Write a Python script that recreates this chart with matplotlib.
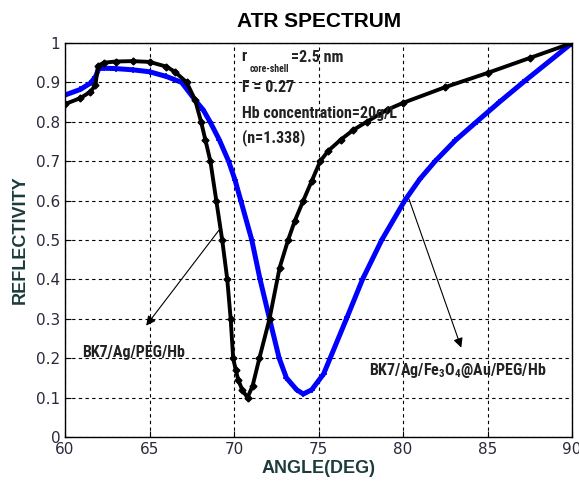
import numpy as np
import matplotlib
matplotlib.use('Agg')
import matplotlib.pyplot as plt

# BK7/Ag/PEG/Hb (black)
black_angle = [60, 60.9, 61.5, 61.8, 61.95, 62.3, 63, 64, 65, 66, 66.5, 67.2, 67.7, 68.05,
               68.3, 68.6, 68.95, 69.3, 69.6, 69.8, 69.95, 70.1, 70.25, 70.5, 70.8, 71.1,
               71.5, 72.1, 72.7, 73.2, 73.6, 74.1, 74.6, 75.1, 75.57, 76.3, 77.05, 77.85,
               79.03, 80, 82.5, 85, 87.5, 90]
black_R = [0.845, 0.86, 0.876, 0.893, 0.942, 0.95, 0.953, 0.954, 0.952, 0.94, 0.927, 0.90,
           0.855, 0.80, 0.755, 0.70, 0.60, 0.50, 0.40, 0.30, 0.20, 0.17, 0.145, 0.118, 0.10,
           0.13, 0.20, 0.30, 0.43, 0.50, 0.549, 0.60, 0.65, 0.70, 0.726, 0.754, 0.779, 0.80,
           0.83, 0.848, 0.888, 0.924, 0.962, 1.0]

# BK7/Ag/Fe3O4@Au/PEG/Hb (blue)
blue_angle = [60, 60.9, 61.5, 61.8, 62.0, 62.3, 63, 64, 65, 66, 66.9, 67.7, 68.18, 68.58,
              69.13, 69.68, 70.06, 70.4, 71.05, 71.54, 72.1, 72.67, 73.1, 73.7, 74.1, 74.6,
              75.3, 76.7, 77.6, 78.74, 80.1, 81.0, 81.9, 83.1, 84.35, 85.7, 87.1, 90]
blue_R = [0.868, 0.882, 0.898, 0.914, 0.935, 0.936, 0.935, 0.932, 0.927, 0.915, 0.90, 0.855,
          0.83, 0.80, 0.754, 0.70, 0.652, 0.60, 0.50, 0.40, 0.30, 0.20, 0.15, 0.12, 0.109,
          0.12, 0.16, 0.305, 0.40, 0.50, 0.60, 0.655, 0.70, 0.753, 0.80, 0.85, 0.90, 1.0]

xticks = [60, 65, 70, 75, 80, 85, 90]
yticks = [0, 0.1, 0.2, 0.3, 0.4, 0.5, 0.6, 0.7, 0.8, 0.9, 1]
ytick_labels = ['0', '0.1', '0.2', '0.3', '0.4', '0.5', '0.6', '0.7', '0.8', '0.9', '1']

narrow = ['Roboto Condensed', 'Liberation Sans Narrow', 'Roboto']
plt.rcParams['mathtext.fontset'] = 'custom'
plt.rcParams['mathtext.rm'] = 'Roboto Condensed:bold'
plt.rcParams['mathtext.it'] = 'Roboto Condensed:bold'
plt.rcParams['mathtext.bf'] = 'Roboto Condensed:bold'

label_col = '#1c3c3c'
tick_col = '#2a2a3a'
note_col = '#222222'

fig = plt.figure(figsize=(5.79, 4.82), dpi=100)
ax = fig.add_axes([0.1123, 0.0934, 0.8757, 0.8174])

ax.plot(blue_angle, blue_R, color='#0000ff', lw=3.6, marker='+', ms=4, mew=1.2)
ax.plot(black_angle, black_R, color='black', lw=2.8, marker='D', ms=3.5)

ax.set_xlim(60, 90)
ax.set_ylim(0, 1)
ax.set_xticks(xticks)
ax.set_yticks(yticks)
ax.set_yticklabels(ytick_labels)
ax.tick_params(direction='in', length=4, labelsize=11, colors='black', labelcolor=tick_col)
ax.grid(True, color='black', linestyle=(0, (3, 3)), lw=0.8)
for s in ax.spines.values():
    s.set_linewidth(1.0)

fig.text(0.551, 0.956, 'ATR SPECTRUM', ha='center', va='center', fontsize=15,
         fontweight='bold', family='Liberation Sans')
ax.set_xlabel('ANGLE(DEG)', fontsize=13, fontweight='bold', color=label_col,
              family='Liberation Sans', labelpad=2)
ax.set_ylabel('REFLECTIVITY', fontsize=13, fontweight='bold', color=label_col,
              family='Liberation Sans', labelpad=5)

# parameter box text
tk = dict(fontsize=11.5, fontweight='bold', family=narrow, va='center', ha='left',
          color=note_col)
ax.text(70.45, 0.965, 'r', **tk)
ax.text(70.95, 0.935, 'core-shell', fontsize=7, fontweight='bold', family=narrow,
        va='center', ha='left', color=note_col)
ax.text(73.4, 0.962, '=2.5 nm', **tk)
ax.text(70.45, 0.888, 'F = 0.27', **tk)
ax.text(70.45, 0.822, 'Hb concentration=20g/L', **tk)
ax.text(70.45, 0.761, '(n=1.338)', **tk)

# curve labels with arrows
ax.annotate('', xy=(64.7, 0.277), xytext=(69.2, 0.53),
            arrowprops=dict(arrowstyle='-|>', color='black', lw=0.8, mutation_scale=14))
ax.text(61.0, 0.215, 'BK7/Ag/PEG/Hb', **tk)
ax.annotate('', xy=(83.5, 0.22), xytext=(80.3, 0.61),
            arrowprops=dict(arrowstyle='-|>', color='black', lw=0.8, mutation_scale=14))
ax.text(78.0, 0.17, r'BK7/Ag/Fe$_3$O$_4$@Au/PEG/Hb', **tk)

fig.savefig('out.png', dpi=100)
